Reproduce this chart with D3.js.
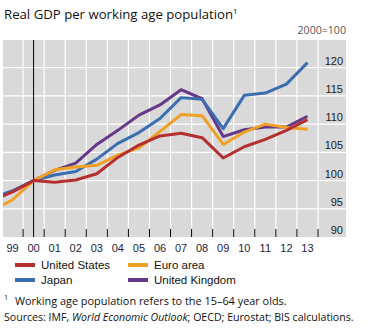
<!DOCTYPE html>
<html>
<head>
<meta charset="utf-8">
<script src="https://cdn.jsdelivr.net/npm/d3@7"></script>
<style>
  body { margin: 0; background: #fff; }
  svg { display: block; }
</style>
</head>
<body>
<div id="chart"></div>
<script>
(function() {

  // Index values, 2000 = 100
  const years = [1998, 1999, 2000, 2001, 2002, 2003, 2004, 2005, 2006, 2007, 2008, 2009, 2010, 2011, 2012, 2013]
  const unitedStates = [96.4, 98.0, 100, 99.7, 100.1, 101.2, 104.1, 106.3, 107.9, 108.4, 107.6, 104.0, 106.0, 107.3, 108.9, 110.8]
  const euroArea = [94.6, 96.6, 100, 101.9, 102.4, 102.7, 104.5, 105.8, 108.7, 111.7, 111.5, 106.4, 108.6, 110.0, 109.4, 109.1]
  const japan = [96.9, 98.2, 100, 101.0, 101.6, 103.8, 106.6, 108.5, 111.0, 114.7, 114.4, 109.2, 115.1, 115.5, 117.1, 120.9]
  const unitedKingdom = [96.7, 98.1, 100, 101.8, 103.1, 106.4, 108.9, 111.6, 113.4, 116.1, 114.5, 107.8, 109.0, 109.5, 109.5, 111.4]

  const tickYears = [1999, 2000, 2001, 2002, 2003, 2004, 2005, 2006, 2007, 2008, 2009, 2010, 2011, 2012, 2013]
  const yTicks = [90, 95, 100, 105, 110, 115, 120]

  // drawing order, bottom to top
  const series = [
    { name: "United Kingdom", values: unitedKingdom, color: "#66388a" },
    { name: "Japan", values: japan, color: "#3b6eb0" },
    { name: "Euro area", values: euroArea, color: "#f0a024" },
    { name: "United States", values: unitedStates, color: "#b3302e" }
  ]
  const legendOrder = ["United States", "Euro area", "Japan", "United Kingdom"]

  const width = 373
  const height = 329
  const plot = { left: 3, right: 346, top: 40, bottom: 237 }

  const svg = d3.select("#chart")
    .append("svg")
      .attr("width", width)
      .attr("height", height)

  const x = d3.scaleLinear()
    .domain([1998.5, 2013.5])
    .range([2, 318])

  const y = d3.scaleLinear()
    .domain([90, 125])
    .range([plot.bottom, 39.5])

  // background
  svg.append("rect")
    .attr("x", plot.left)
    .attr("y", plot.top)
    .attr("width", plot.right - plot.left)
    .attr("height", plot.bottom - plot.top)
    .attr("fill", "#d9d9d9")

  svg.append("clipPath")
      .attr("id", "clip")
    .append("rect")
      .attr("x", plot.left)
      .attr("y", plot.top)
      .attr("width", plot.right - plot.left)
      .attr("height", plot.bottom - plot.top)

  // grid
  svg.append("g")
    .selectAll("line")
    .data(yTicks.slice(1))
    .join("line")
      .attr("x1", plot.left)
      .attr("x2", plot.right)
      .attr("y1", d => y(d))
      .attr("y2", d => y(d))
      .attr("stroke", "#fff")
      .attr("stroke-width", 1.2)

  svg.append("g")
    .selectAll("line")
    .data(tickYears)
    .join("line")
      .attr("x1", d => x(d + 0.5))
      .attr("x2", d => x(d + 0.5))
      .attr("y1", plot.top)
      .attr("y2", plot.bottom)
      .attr("stroke", "#fff")
      .attr("stroke-width", 1.2)

  // year ticks along the bottom edge
  svg.append("g")
    .selectAll("line")
    .data(tickYears)
    .join("line")
      .attr("x1", d => x(d + 0.5))
      .attr("x2", d => x(d + 0.5))
      .attr("y1", plot.bottom - 8)
      .attr("y2", plot.bottom)
      .attr("stroke", "#000")
      .attr("stroke-width", 1)

  // base year marker
  svg.append("line")
    .attr("x1", x(2000))
    .attr("x2", x(2000))
    .attr("y1", plot.top)
    .attr("y2", plot.bottom)
    .attr("stroke", "#000")
    .attr("stroke-width", 1)

  const line = d3.line()
    .x((d, i) => x(years[i]))
    .y(d => y(d))

  svg.append("g")
      .attr("clip-path", "url(#clip)")
    .selectAll("path")
    .data(series)
    .join("path")
      .attr("fill", "none")
      .attr("stroke", d => d.color)
      .attr("stroke-width", 3)
      .attr("stroke-linejoin", "round")
      .attr("d", d => line(d.values))

  // y labels sit just above their grid line
  svg.append("g")
    .selectAll("text")
    .data(yTicks)
    .join("text")
      .attr("x", 343)
      .attr("y", d => y(d) - 3)
      .attr("text-anchor", "end")
      .attr("font-family", "Liberation Sans, Arial, sans-serif")
      .attr("font-size", 11)
      .attr("fill", "#222")
      .text(d => d)

  svg.append("g")
    .selectAll("text")
    .data(tickYears)
    .join("text")
      .attr("x", d => x(d))
      .attr("y", 252)
      .attr("text-anchor", "middle")
      .attr("font-family", "Liberation Sans, Arial, sans-serif")
      .attr("font-size", 11)
      .attr("fill", "#1c2540")
      .text(d => String(d % 100).padStart(2, "0"))

  // titles
  const title = svg.append("text")
    .attr("x", 4)
    .attr("y", 19)
    .attr("font-family", "Open Sans, sans-serif")
    .attr("font-size", 13.2)
    .attr("fill", "#111")
  title.append("tspan").text("Real GDP per working age population")
  title.append("tspan")
    .attr("dy", -5)
    .attr("font-size", 8)
    .text("1")

  svg.append("text")
    .attr("x", 346)
    .attr("y", 34)
    .attr("text-anchor", "end")
    .attr("font-family", "Open Sans, sans-serif")
    .attr("font-size", 10.6)
    .attr("fill", "#555")
    .text("2000=100")

  // legend
  const legend = svg.append("g")
    .selectAll("g")
    .data(legendOrder.map(n => series.find(s => s.name === n)))
    .join("g")
      .attr("transform", (d, i) => `translate(${i % 2 ? 128 : 15},${i < 2 ? 265 : 280})`)

  legend.append("line")
    .attr("x1", 0)
    .attr("x2", 20)
    .attr("stroke", d => d.color)
    .attr("stroke-width", 4)

  legend.append("text")
    .attr("x", 26)
    .attr("y", 4)
    .attr("font-family", "Liberation Sans, Arial, sans-serif")
    .attr("font-size", 11.5)
    .attr("fill", "#111")
    .text(d => d.name)

  // notes
  svg.append("text")
    .attr("x", 4)
    .attr("y", 300)
    .attr("font-family", "Open Sans, sans-serif")
    .attr("font-size", 7)
    .attr("fill", "#111")
    .text("1")

  svg.append("text")
    .attr("x", 15)
    .attr("y", 305)
    .attr("font-family", "Open Sans, sans-serif")
    .attr("font-size", 10.9)
    .attr("fill", "#111")
    .text("Working age population refers to the 15–64 year olds.")

  const sources = svg.append("text")
    .attr("x", 4)
    .attr("y", 321)
    .attr("font-family", "Open Sans, sans-serif")
    .attr("font-size", 10.6)
    .attr("fill", "#111")
  sources.append("tspan").text("Sources: IMF, ")
  sources.append("tspan").attr("font-style", "italic").text("World Economic Outlook")
  sources.append("tspan").text("; OECD; Eurostat; BIS calculations.")

})();
</script>
</body>
</html>
